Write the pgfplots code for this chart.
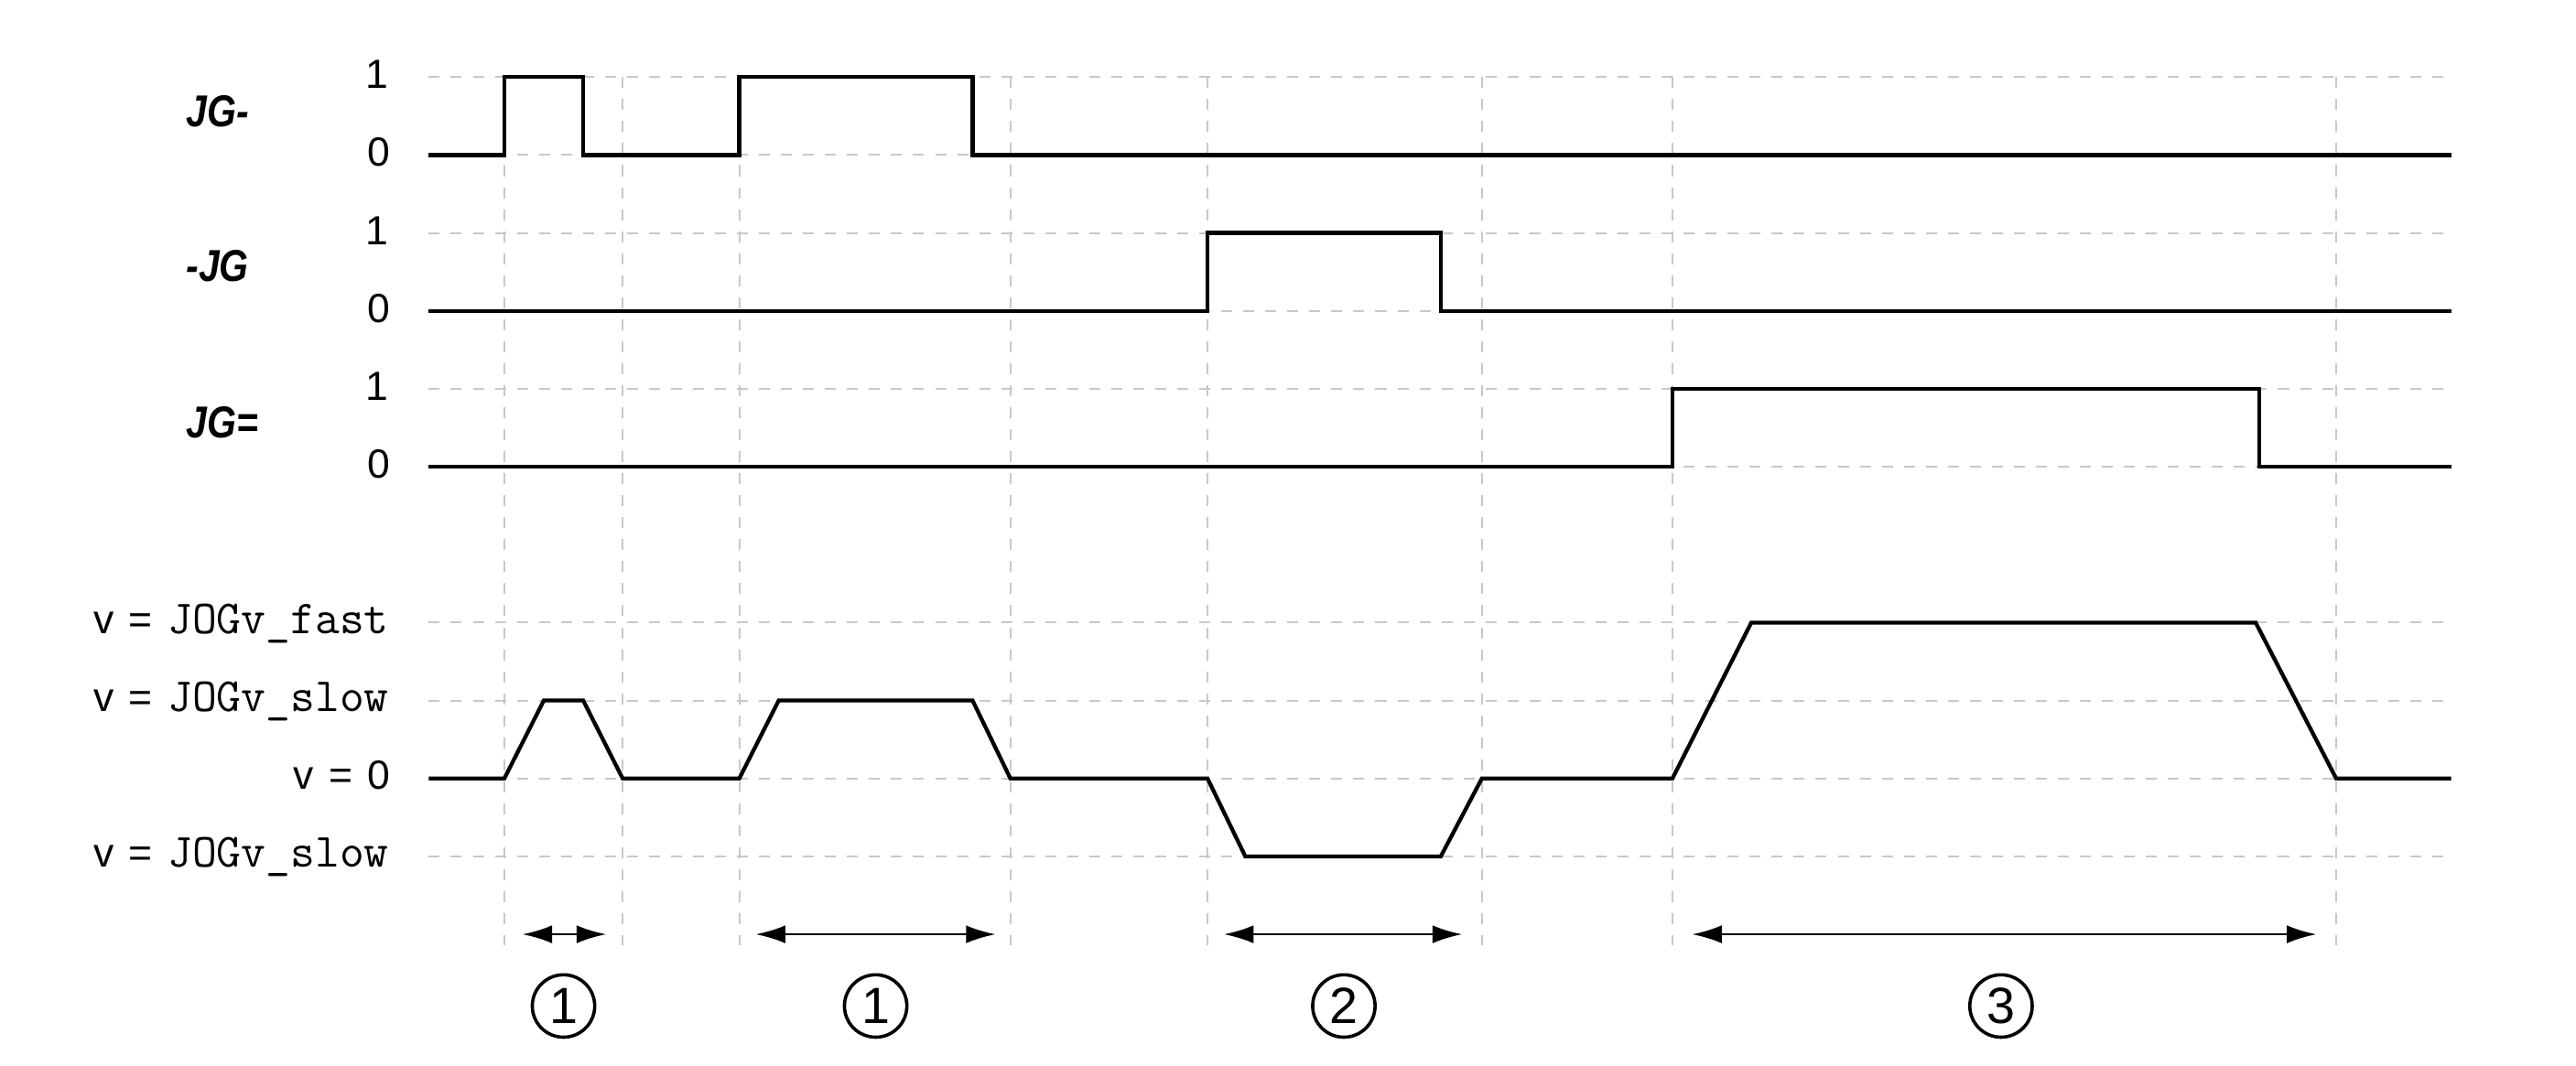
\documentclass[border=0pt]{standalone}
\usepackage{pgfplots}
\pgfplotsset{compat=1.18}
\usepackage{fontspec}
\setmainfont{Liberation Sans}
\usetikzlibrary{arrows.meta}
\definecolor{gridc}{RGB}{200,200,200}
\newcommand{\veq}{v\hspace{4.6pt}=\hspace{4.6pt}}
\begin{document}
\begin{tikzpicture}
\begin{axis}[
  scale only axis, width=784pt, height=324.5pt,
  xmin=0, xmax=1568, ymin=-2.687, ymax=10.99,
  hide axis, clip=false,
]
\path (rel axis cs:0,0) rectangle (rel axis cs:1,1);
% horizontal grid
\pgfplotsinvokeforeach{10,9,8,7,6,5,3,2,1,0}{
  \addplot[gridc, line width=0.55pt, dash pattern=on 3.35pt off 3.35pt] coordinates {(261,#1) (1492,#1)};
}
% vertical grid
\pgfplotsinvokeforeach{307,379,450,615,735,902,1018,1422}{
  \addplot[gridc, line width=0.55pt, dash pattern=on 3.35pt off 3.35pt] coordinates {(#1,10) (#1,-1.14)};
}
% signals
\addplot[black, line width=1.2pt, line join=miter] coordinates {(261,9) (307,9) (307,10) (355,10) (355,9) (450,9) (450,10) (592,10) (592,9) (1492,9)};
\addplot[black, line width=1.2pt, line join=miter] coordinates {(261,7) (735,7) (735,8) (877,8) (877,7) (1492,7)};
\addplot[black, line width=1.2pt, line join=miter] coordinates {(261,5) (1018,5) (1018,6) (1375,6) (1375,5) (1492,5)};
\addplot[black, line width=1.2pt] coordinates {(261,1) (307,1) (331,2) (355,2) (379,1) (450,1) (474,2) (592,2) (615,1) (735,1) (758,0) (877,0) (902,1) (1018,1) (1066,3) (1373,3) (1422,1) (1492,1)};
% arrows
\addplot[black, line width=0.75pt, {Latex[length=9pt,width=5.5pt]}-{Latex[length=9pt,width=5.5pt]}] coordinates {(318,-1) (369,-1)};
\addplot[black, line width=0.75pt, {Latex[length=9pt,width=5.5pt]}-{Latex[length=9pt,width=5.5pt]}] coordinates {(460,-1) (606,-1)};
\addplot[black, line width=0.75pt, {Latex[length=9pt,width=5.5pt]}-{Latex[length=9pt,width=5.5pt]}] coordinates {(745,-1) (890,-1)};
\addplot[black, line width=0.75pt, {Latex[length=9pt,width=5.5pt]}-{Latex[length=9pt,width=5.5pt]}] coordinates {(1030,-1) (1410,-1)};
% tick labels
\pgfplotsinvokeforeach{10,8,6}{
  \node[anchor=base east, inner sep=0pt, font=\fontsize{12.4}{14}\selectfont] at (axis cs:237,#1-0.147) {1};
}
\pgfplotsinvokeforeach{9,7,5}{
  \node[anchor=base east, inner sep=0pt, font=\fontsize{12.4}{14}\selectfont] at (axis cs:238,#1-0.147) {0};
}
\node[anchor=base east, inner sep=0pt, font=\fontsize{12.4}{14}\selectfont] at (axis cs:237,3-0.14) {\veq{\fontsize{14.5}{15}\selectfont\ttfamily JOGv\_fast}};
\node[anchor=base east, inner sep=0pt, font=\fontsize{12.4}{14}\selectfont] at (axis cs:237,2-0.14) {\veq{\fontsize{14.5}{15}\selectfont\ttfamily JOGv\_slow}};
\node[anchor=base east, inner sep=0pt, font=\fontsize{12.4}{14}\selectfont] at (axis cs:238,1-0.14) {\veq 0};
\node[anchor=base east, inner sep=0pt, font=\fontsize{12.4}{14}\selectfont] at (axis cs:237,0-0.14) {\veq{\fontsize{14.5}{15}\selectfont\ttfamily JOGv\_slow}};
% parameter names
\node[anchor=base west, inner sep=0pt, font=\fontsize{13.6}{15}\selectfont\bfseries\itshape] at (axis cs:113,9.368) {\scalebox{0.84}[1]{JG-}};
\node[anchor=base west, inner sep=0pt, font=\fontsize{13.6}{15}\selectfont\bfseries\itshape] at (axis cs:113,7.374) {\scalebox{0.84}[1]{-JG}};
\node[anchor=base west, inner sep=0pt, font=\fontsize{13.6}{15}\selectfont\bfseries\itshape] at (axis cs:113,5.374) {\scalebox{0.84}[1]{JG=}};
% circled numbers
\node[draw, circle, line width=1pt, minimum size=19pt, inner sep=0pt, font=\fontsize{15.5}{16}\selectfont] at (axis cs:343,-1.92) {1};
\node[draw, circle, line width=1pt, minimum size=19pt, inner sep=0pt, font=\fontsize{15.5}{16}\selectfont] at (axis cs:533,-1.92) {1};
\node[draw, circle, line width=1pt, minimum size=19pt, inner sep=0pt, font=\fontsize{15.5}{16}\selectfont] at (axis cs:818,-1.92) {2};
\node[draw, circle, line width=1pt, minimum size=19pt, inner sep=0pt, font=\fontsize{15.5}{16}\selectfont] at (axis cs:1218,-1.92) {3};
\end{axis}
\end{tikzpicture}
\end{document}
